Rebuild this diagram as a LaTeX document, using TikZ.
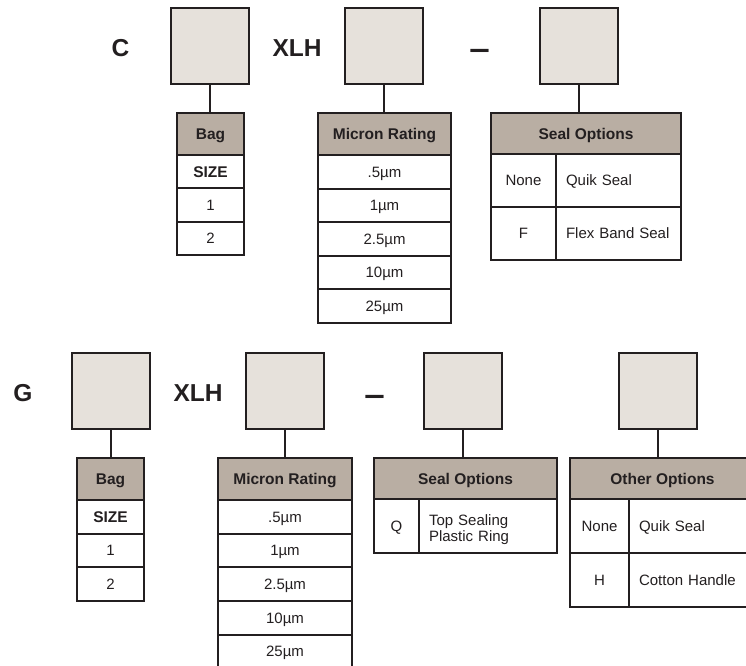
\documentclass[tikz,border=0pt]{standalone}
\usepackage{fontspec}
\setmainfont{Liberation Sans}
\definecolor{ink}{HTML}{231F20}
\definecolor{boxfill}{HTML}{E6E1DB}
\definecolor{hdrfill}{HTML}{B9AEA3}
\tikzset{
  bigbox/.style={draw=ink, fill=boxfill, line width=2pt, minimum width=78pt, minimum height=76pt, inner sep=0pt},
  hdr/.style={draw=ink, fill=hdrfill, line width=2pt, inner sep=0pt, text=ink,
    font=\bfseries\fontsize{15.5}{18}\selectfont, text height=11.1pt, text depth=0pt},
  cell/.style={draw=ink, fill=white, line width=2pt, inner sep=0pt, text=ink,
    font=\fontsize{15}{16.5}\selectfont, text height=10.7pt, text depth=0pt},
  bcell/.style={cell, font=\bfseries\fontsize{15.5}{18}\selectfont, text height=11.1pt},
  lcell/.style={cell, align=left, inner xsep=10pt, text width=#1},
  code/.style={text=ink, inner sep=0pt, font=\bfseries\fontsize{24.5}{28}\selectfont, text height=17.5pt, text depth=0pt},
  link/.style={draw=ink, line width=2pt},
}
\begin{document}
\begin{tikzpicture}[x=1pt,y=-1pt]
\useasboundingbox (0,0) rectangle (746,665);
\clip (0,0) rectangle (746,665);
% ===== top row =====
\node[code] (c) at (120.5,47.5) {C};
\node[bigbox] (c1) at (210,46) {};
\node[hdr, minimum width=67pt, minimum height=42pt] (cbag) at (210.5,134) {Bag};
\node[bcell, minimum width=67pt, minimum height=33.3pt] (cbag0) at (210.5,171.7) {SIZE};
\node[cell, minimum width=67pt, minimum height=33.3pt] (cbag1) at (210.5,205) {1};
\node[cell, minimum width=67pt, minimum height=33.3pt] (cbag2) at (210.5,238.3) {2};
\draw[link] (c1.south) -- (c1.south |- cbag.north);

\node[code] (cx) at (297,47.5) {XLH};
\node[bigbox] (c2) at (384,46) {};
\node[hdr, minimum width=133pt, minimum height=42pt] (cmic) at (384.5,134) {Micron Rating};
\node[cell, minimum width=133pt, minimum height=33.6pt] (cm1) at (384.5,171.8) {.5µm};
\node[cell, minimum width=133pt, minimum height=33.6pt] (cm2) at (384.5,205.4) {1µm};
\node[cell, minimum width=133pt, minimum height=33.6pt] (cm3) at (384.5,239) {2.5µm};
\node[cell, minimum width=133pt, minimum height=33.6pt] (cm4) at (384.5,272.6) {10µm};
\node[cell, minimum width=133pt, minimum height=33.6pt] (cm5) at (384.5,306.2) {25µm};
\draw[link] (c2.south) -- (c2.south |- cmic.north);

\node[code, xscale=1.5, yscale=1.3] (cd) at (479.5,48.5) {–};
\node[bigbox] (c3) at (579,46) {};
\node[hdr, minimum width=190pt, minimum height=41pt] (cseal) at (586,133.5) {Seal Options};
\node[cell, minimum width=65pt, minimum height=53pt] (cs1a) at (523.5,180.5) {None};
\node[lcell=105pt, minimum width=125pt, minimum height=53pt] (cs1b) at (618.5,180.5) {Quik Seal};
\node[cell, minimum width=65pt, minimum height=53pt] (cs2a) at (523.5,233.5) {F};
\node[lcell=105pt, minimum width=125pt, minimum height=53pt] (cs2b) at (618.5,233.5) {Flex Band Seal};
\draw[link] (c3.south) -- (c3.south |- cseal.north);

% ===== bottom row =====
\node[code] (g) at (23,393) {G};
\node[bigbox] (g1) at (110.5,391) {};
\node[hdr, minimum width=67pt, minimum height=42pt] (gbag) at (110.5,479) {Bag};
\node[bcell, minimum width=67pt, minimum height=33.7pt] (gbag0) at (110.5,516.8) {SIZE};
\node[cell, minimum width=67pt, minimum height=33.7pt] (gbag1) at (110.5,550.5) {1};
\node[cell, minimum width=67pt, minimum height=33.7pt] (gbag2) at (110.5,584.2) {2};
\draw[link] (g1.south) -- (g1.south |- gbag.north);

\node[code] (gx) at (198,393) {XLH};
\node[bigbox] (g2) at (285,391) {};
\node[hdr, minimum width=134pt, minimum height=42pt] (gmic) at (285,479) {Micron Rating};
\node[cell, minimum width=134pt, minimum height=33.7pt] (gm1) at (285,516.8) {.5µm};
\node[cell, minimum width=134pt, minimum height=33.7pt] (gm2) at (285,550.5) {1µm};
\node[cell, minimum width=134pt, minimum height=33.7pt] (gm3) at (285,584.2) {2.5µm};
\node[cell, minimum width=134pt, minimum height=33.7pt] (gm4) at (285,617.9) {10µm};
\node[cell, minimum width=134pt, minimum height=33.7pt] (gm5) at (285,651.6) {25µm};
\draw[link] (g2.south) -- (g2.south |- gmic.north);

\node[code, xscale=1.5, yscale=1.3] (gd) at (374.5,393.7) {–};
\node[bigbox] (g3) at (462.5,391) {};
\node[hdr, minimum width=183pt, minimum height=41pt] (gseal) at (465.5,478.5) {Seal Options};
\node[cell, minimum width=45pt, minimum height=54pt] (gs1a) at (396.5,526) {Q};
\node[lcell=118pt, minimum width=138pt, minimum height=54pt, font=\fontsize{15}{15.5}\selectfont, text depth=11.3pt] (gs1b) at (488,526) {Top Sealing\\Plastic Ring};
\draw[link] (g3.south) -- (g3.south |- gseal.north);

\node[bigbox] (g4) at (658,391) {};
\node[hdr, minimum width=190pt, minimum height=41pt] (goth) at (665,478.5) {\hspace*{-5pt}Other Options};
\node[cell, minimum width=59pt, minimum height=54pt] (go1a) at (599.5,526) {None};
\node[lcell=111pt, minimum width=131pt, minimum height=54pt] (go1b) at (694.5,526) {Quik Seal};
\node[cell, minimum width=59pt, minimum height=54pt] (go2a) at (599.5,580) {H};
\node[lcell=111pt, minimum width=131pt, minimum height=54pt] (go2b) at (694.5,580) {Cotton Handle};
\draw[link] (g4.south) -- (g4.south |- goth.north);
\end{tikzpicture}
\end{document}
